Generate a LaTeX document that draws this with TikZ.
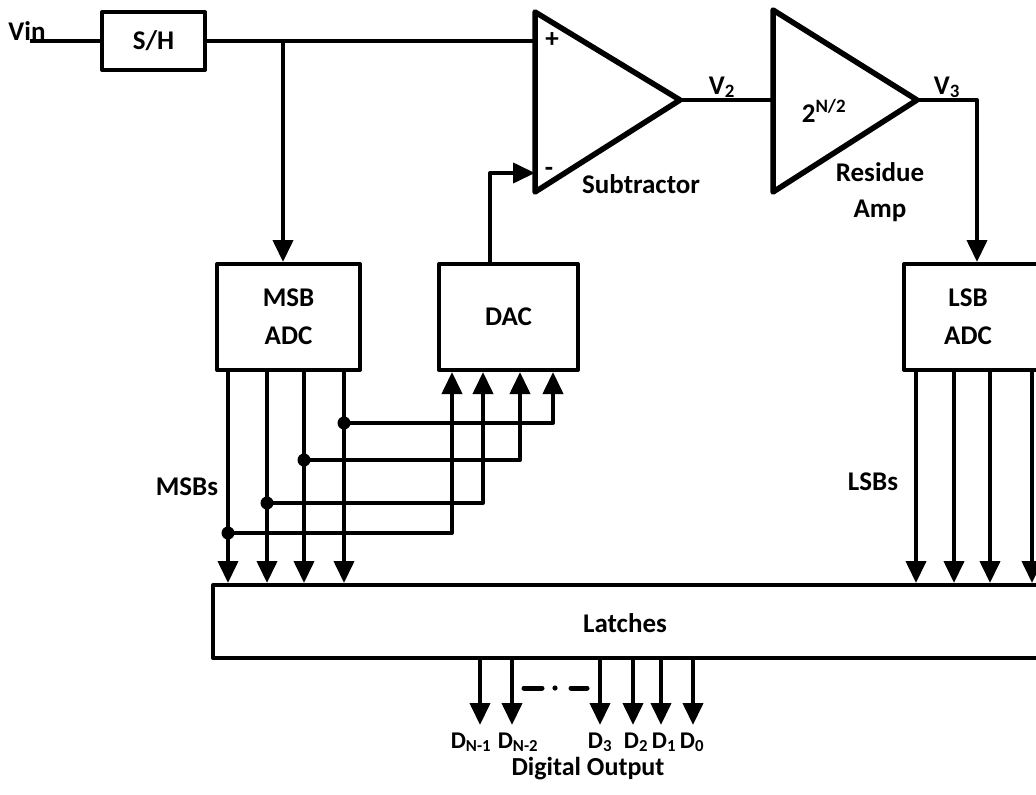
\documentclass[tikz,border=0pt]{standalone}
\usepackage{fontspec}
\setmainfont{Carlito}
\usetikzlibrary{arrows.meta}
\begin{document}
\begin{tikzpicture}[x=1pt,y=-1pt,line width=4pt,line join=round,
  font=\bfseries\fontsize{27}{38}\selectfont,
  blk/.style={draw,rectangle,inner sep=0pt,align=center},
  arr/.style={-{Triangle[length=22pt,width=20pt]}},
  jdot/.style={circle,fill,inner sep=0pt,minimum size=13pt},
  lbl/.style={anchor=base,inner sep=0pt},
  dlbl/.style={anchor=base,inner sep=0pt,font=\bfseries\fontsize{24}{28}\selectfont},
  txt/.style={inner sep=0pt,align=center},
  amp/.style={line width=5.5pt}]
\useasboundingbox (0,0) rectangle (1036,795);
\clip (0,0) rectangle (1036,795);

% blocks
\node[blk,minimum width=103pt,minimum height=58pt] (sh) at (153.5,41) {S/H};
\node[blk,minimum width=143pt,minimum height=106pt] (msb) at (288.5,317) {MSB\\ADC};
\node[blk,minimum width=139pt,minimum height=106pt] (dac) at (508.5,317) {DAC};
\node[blk,minimum width=141pt,minimum height=106pt] (lsb) at (974.5,317) {};
\node[txt] (lsbt) at (968,317) {LSB\\ADC};
\node[blk,minimum width=837pt,minimum height=73pt] (latch) at (631.5,621.5) {};
\node[lbl] (latcht) at (625,632) {Latches};

% subtractor
\coordinate (s1) at (535,12);
\coordinate (s2) at (535,192);
\coordinate (s3) at (680,100);
\draw[amp] (s1) -- (s3) -- (s2) -- cycle;
% residue amp
\coordinate (r1) at (773,10);
\coordinate (r2) at (773,192);
\coordinate (r3) at (917,100);
\draw[amp] (r1) -- (r3) -- (r2) -- cycle;

% input path
\coordinate (vin) at (30,41);
\coordinate (splus) at (535,41);
\coordinate (sminus) at (535,173);
\coordinate (j1) at (283,41);
\coordinate (dx) at (490,0);
\coordinate (rin) at (773,100);
\coordinate (v3c) at (977,100);
\draw (vin) -- (sh.west);
\draw (sh.east) -- (splus);
\draw[arr] (j1) -- (j1 |- msb.north);
\draw[arr] (dac.north -| dx) |- (sminus);
\draw (s3) -- (rin);
\draw[arr] (r3) -- (v3c) -- (v3c |- lsb.north);

% MSB outputs
\foreach \i/\x in {1/228,2/267,3/304,4/344}{
  \coordinate (m\i) at (\x,0);
  \draw[arr] (msb.south -| m\i) -- (latch.north -| m\i);
}
% taps to DAC
\foreach \i/\y/\d in {4/423/553,3/460/520,2/503/483,1/533/452}{
  \coordinate (dd\i) at (\d,0);
  \node[jdot] (jd\i) at (m\i |- 0,\y) {};
  \draw[arr] (jd\i.center) -| (dac.south -| dd\i);
}
% LSB outputs
\foreach \i/\x in {1/916,2/954,3/990,4/1032}{
  \coordinate (l\i) at (\x,0);
  \draw[arr] (lsb.south -| l\i) -- (latch.north -| l\i);
}
% digital outputs
\foreach \i/\x in {1/480,2/512,3/600,4/633,5/661,6/693}{
  \coordinate (o\i) at (\x,725);
  \draw[arr] (latch.south -| o\i) -- (o\i);
}
\draw[line width=5pt,line cap=round] (524,688) -- (542,688);
\fill (555,688) circle (2.6);
\draw[line width=5pt,line cap=round] (571,688) -- (587,688);

% labels
\node[lbl] at (27,40) {Vin};
\node[txt] at (552,40) {+};
\node[txt] at (549,172) {-};
\node[lbl] at (641,193) {Subtractor};
\node[lbl] at (722,94) {V\textsubscript{2}};
\node[lbl] at (824,122) {2\textsuperscript{N/2}};
\node[lbl] at (947,94) {V\textsubscript{3}};
\node[lbl] at (880,181) {Residue};
\node[lbl] at (880,217) {Amp};
\node[lbl] at (187,495) {MSBs};
\node[lbl] at (873,490) {LSBs};
\node[dlbl] at (471,748) {D\textsubscript{N-1}};
\node[dlbl] at (518,748) {D\textsubscript{N-2}};
\node[dlbl] at (600,748) {D\textsubscript{3}};
\node[dlbl] at (636,748) {D\textsubscript{2}};
\node[dlbl] at (664,748) {D\textsubscript{1}};
\node[dlbl] at (692,748) {D\textsubscript{0}};
\node[lbl,font=\bfseries\fontsize{26}{30}\selectfont] at (588,775) {Digital Output};
\end{tikzpicture}
\end{document}
